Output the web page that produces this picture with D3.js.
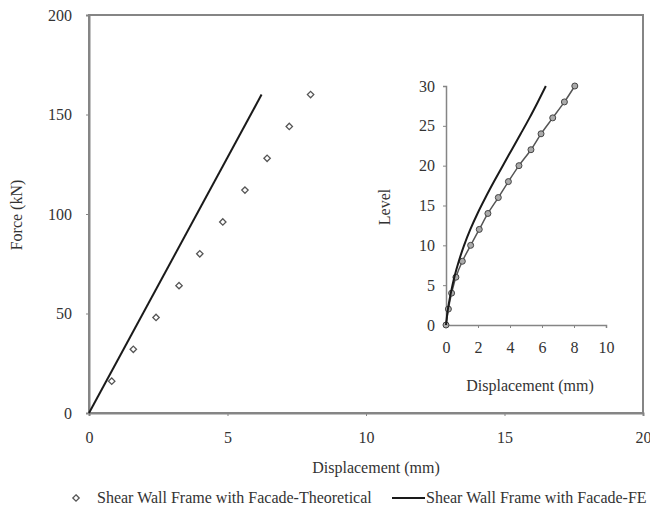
<!DOCTYPE html>
<html>
<head>
<meta charset="utf-8">
<script src="https://cdn.jsdelivr.net/npm/d3@7"></script>
<style>
  body { margin: 0; background: #fff; }
  svg { display: block; font-family: "Liberation Serif", "Times New Roman", serif; }
</style>
</head>
<body>
<svg id="chart" width="650" height="512"></svg>
<script>
// main plot: force vs displacement
const forceLevels = [16, 32, 48, 64, 80, 96, 112, 128, 144, 160];
const theoDisp = [0.82, 1.6, 2.42, 3.25, 4.0, 4.83, 5.63, 6.43, 7.23, 8.0];
const feForce = [0, 160];
const feDisp = [0, 6.23];
const mainXTicks = [0, 5, 10, 15, 20];
const mainYTicks = [0, 50, 100, 150, 200];

// inset: level vs displacement
const levels = [0, 2, 4, 6, 8, 10, 12, 14, 16, 18, 20, 22, 24, 26, 28, 30];
const insetTheoDisp = [0, 0.15, 0.35, 0.62, 1.02, 1.54, 2.08, 2.62, 3.27, 3.9, 4.56, 5.31, 5.94, 6.67, 7.4, 8.05];
const insetFeDisp = [0, 0.12, 0.3, 0.52, 0.8, 1.13, 1.52, 1.97, 2.47, 3.0, 3.55, 4.11, 4.67, 5.22, 5.74, 6.24];
const insetXTicks = [0, 2, 4, 6, 8, 10];
const insetYTicks = [0, 5, 10, 15, 20, 25, 30];

const legendLabels = ["Shear Wall Frame with Facade-Theoretical", "Shear Wall Frame with Facade-FE"];

const svg = d3.select("#chart");
const axisColor = "#858585";

const x = d3.scaleLinear().domain([0, 20]).range([89, 643]);
const y = d3.scaleLinear().domain([0, 200]).range([413, 15]);

// frame
svg.append("rect")
  .attr("x", x(0)).attr("y", y(200))
  .attr("width", x(20) - x(0)).attr("height", y(0) - y(200))
  .attr("fill", "none")
  .attr("stroke", axisColor)
  .attr("stroke-width", 2);

const xAxis = svg.append("g")
  .attr("transform", `translate(0,${y(0)})`)
  .call(d3.axisBottom(x).tickValues(mainXTicks).tickSize(3).tickPadding(16).tickFormat(d3.format("d")));
const yAxis = svg.append("g")
  .attr("transform", `translate(${x(0)},0)`)
  .call(d3.axisLeft(y).tickValues(mainYTicks).tickSize(3).tickPadding(14).tickFormat(d3.format("d")));

[xAxis, yAxis].forEach(g => {
  g.select(".domain").attr("stroke", axisColor).attr("stroke-width", 2);
  g.selectAll(".tick line").attr("stroke", axisColor);
  g.selectAll(".tick text").attr("fill", "#333").style("font-size", "16px").style("font-family", "Liberation Serif");
});

svg.append("text")
  .attr("x", 376).attr("y", 473)
  .attr("text-anchor", "middle")
  .attr("fill", "#333")
  .style("font-size", "16px")
  .text("Displacement (mm)");

svg.append("text")
  .attr("transform", "translate(22,215) rotate(-90)")
  .attr("text-anchor", "middle")
  .attr("fill", "#333")
  .style("font-size", "16px")
  .text("Force (kN)");

// FE line
svg.append("path")
  .datum(feForce.map((f, i) => [feDisp[i], f]))
  .attr("d", d3.line().x(d => x(d[0])).y(d => y(d[1])))
  .attr("fill", "none")
  .attr("stroke", "#1a1a1a")
  .attr("stroke-width", 2);

// theoretical diamonds
const diamond = d3.symbol().type(d3.symbolDiamond2).size(26);
svg.append("g")
  .selectAll("path")
  .data(forceLevels.map((f, i) => [theoDisp[i], f]))
  .join("path")
  .attr("transform", d => `translate(${x(d[0])},${y(d[1])})`)
  .attr("d", diamond)
  .attr("fill", "#fff")
  .attr("stroke", "#555")
  .attr("stroke-width", 1.3);

// inset
const ix = d3.scaleLinear().domain([0, 10]).range([446, 606]);
const iy = d3.scaleLinear().domain([0, 30]).range([325, 86]);

const ixAxis = svg.append("g")
  .attr("transform", `translate(0,${iy(0)})`)
  .call(d3.axisBottom(ix).tickValues(insetXTicks).tickSize(3).tickPadding(14).tickFormat(d3.format("d")));
const iyAxis = svg.append("g")
  .attr("transform", `translate(${ix(0)},0)`)
  .call(d3.axisLeft(iy).tickValues(insetYTicks).tickSize(3).tickPadding(8).tickFormat(d3.format("d")));

[ixAxis, iyAxis].forEach(g => {
  g.select(".domain").attr("stroke", axisColor).attr("stroke-width", 1.5);
  g.selectAll(".tick line").attr("stroke", axisColor);
  g.selectAll(".tick text").attr("fill", "#333").style("font-size", "16px").style("font-family", "Liberation Serif");
});

svg.append("text")
  .attr("x", 530).attr("y", 391)
  .attr("text-anchor", "middle")
  .attr("fill", "#333")
  .style("font-size", "16px")
  .text("Displacement (mm)");

svg.append("text")
  .attr("transform", "translate(390,207) rotate(-90)")
  .attr("text-anchor", "middle")
  .attr("fill", "#333")
  .style("font-size", "16px")
  .text("Level");

const iline = d3.line().x(d => ix(d[0])).y(d => iy(d[1])).curve(d3.curveMonotoneY);

svg.append("path")
  .datum(levels.map((l, i) => [insetTheoDisp[i], l]))
  .attr("d", iline)
  .attr("fill", "none")
  .attr("stroke", "#555")
  .attr("stroke-width", 1.5);

svg.append("g")
  .selectAll("circle")
  .data(levels.map((l, i) => [insetTheoDisp[i], l]))
  .join("circle")
  .attr("cx", d => ix(d[0]))
  .attr("cy", d => iy(d[1]))
  .attr("r", 3)
  .attr("fill", "#aaa")
  .attr("stroke", "#444")
  .attr("stroke-width", 1);

svg.append("path")
  .datum(levels.map((l, i) => [insetFeDisp[i], l]))
  .attr("d", iline)
  .attr("fill", "none")
  .attr("stroke", "#1a1a1a")
  .attr("stroke-width", 2);

// legend
const legend = svg.append("g").style("font-size", "16px").attr("fill", "#333");
legend.append("path")
  .attr("transform", "translate(76,498)")
  .attr("d", diamond)
  .attr("fill", "#fff")
  .attr("stroke", "#555")
  .attr("stroke-width", 1.3);
legend.append("text").attr("x", 97).attr("y", 503).text(legendLabels[0]);
legend.append("line")
  .attr("x1", 392).attr("x2", 425)
  .attr("y1", 498).attr("y2", 498)
  .attr("stroke", "#1a1a1a")
  .attr("stroke-width", 2);
legend.append("text").attr("x", 426).attr("y", 503).text(legendLabels[1]);
</script>
</body>
</html>
